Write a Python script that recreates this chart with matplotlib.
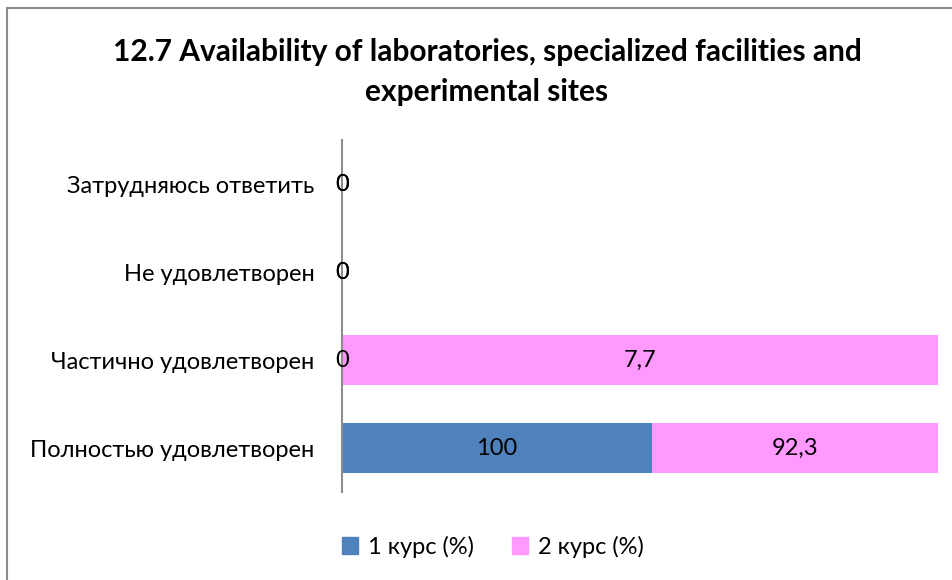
import numpy as np
import matplotlib.pyplot as plt
from matplotlib.lines import Line2D

plt.rcParams['font.family'] = ['Lato', 'DejaVu Sans']

# categories listed bottom to top
categories = ['Полностью удовлетворен', 'Частично удовлетворен',
              'Не удовлетворен', 'Затрудняюсь ответить']
course1 = [100, 0, 0, 0]
course2 = [92.3, 7.7, 0, 0]
series_names = ['1 курс (%)', '2 курс (%)']
colors = ['#4F81BD', '#FF99FF']

title = '12.7 Availability of laboratories, specialized facilities and\nexperimental sites'


def fmt(v):
    # comma as decimal separator, as in the original
    s = ('%g' % v)
    return s.replace('.', ',')


fig = plt.figure(figsize=(9.53, 5.8), dpi=100)
ax = fig.add_axes([0.3589, 0.1517, 0.6254, 0.6069])

y = np.arange(len(categories))
vals = np.array([course1, course2], dtype=float)
totals = vals.sum(axis=0)
# 100% stacked: share of each row total
shares = np.divide(vals, totals, out=np.zeros_like(vals), where=totals > 0) * 100

left = np.zeros(len(categories))
for i in range(len(series_names)):
    ax.barh(y, shares[i], left=left, height=0.57, color=colors[i],
            label=series_names[i])
    for j in range(len(categories)):
        ax.text(left[j] + shares[i][j] / 2, y[j], fmt(vals[i][j]),
                ha='center', va='center', fontsize=17, color='black')
    left = left + shares[i]

ax.set_xlim(0, 100)
ax.set_ylim(-0.5, len(categories) - 0.5)
ax.set_yticks(y)
ax.set_yticklabels(categories, fontsize=17)
ax.tick_params(axis='y', length=0, pad=20)
ax.set_xticks([])
for side in ['top', 'right', 'bottom']:
    ax.spines[side].set_visible(False)
ax.spines['left'].set_color('#8C8C8C')
ax.spines['left'].set_linewidth(1.5)

fig.text(0.511, 0.876, title, ha='center', va='center', fontsize=21.5,
         fontweight='bold', linespacing=1.5)

handles = [plt.Rectangle((0, 0), 1, 1, color=c) for c in colors]
fig.legend(handles, series_names, loc='center', bbox_to_anchor=(0.517, 0.057),
           ncol=2, frameon=False, fontsize=17, handlelength=0.7,
           handleheight=0.7, columnspacing=1.6, handletextpad=0.4)

# chart frame (only top and left edges are visible in the crop)
fig.add_artist(Line2D([0.0073, 1], [0.986, 0.986], color='#8C8C8C', lw=1.5,
                      transform=fig.transFigure))
fig.add_artist(Line2D([0.0073, 0.0073], [0, 0.986], color='#8C8C8C', lw=1.5,
                      transform=fig.transFigure))

fig.savefig('out.png', dpi=100)
